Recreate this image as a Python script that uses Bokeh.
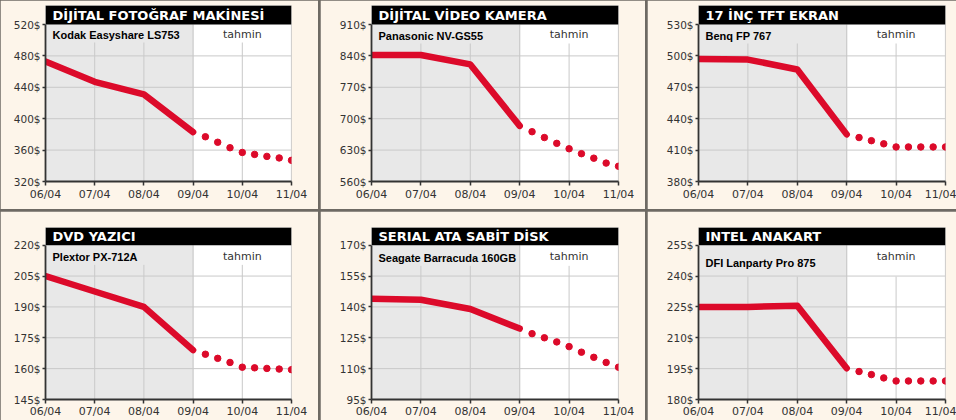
from bokeh.plotting import figure
from bokeh.layouts import row, column
from bokeh.models import Range1d, FixedTicker
from bokeh.core.properties import value
from bokeh.embed import file_html
from bokeh.resources import INLINE

# ---------------- data ----------------
months = [6, 7, 8, 9, 10, 11]
month_labels = ["06/04", "07/04", "08/04", "09/04", "10/04", "11/04"]
actual_x = [6, 7, 8, 9]
forecast_x = [9.25, 9.5, 9.75, 10, 10.25, 10.5, 10.75, 11]
forecast_label = "tahmin"

titles = ["DİJİTAL FOTOĞRAF MAKİNESİ", "DİJİTAL VİDEO KAMERA", "17 İNÇ TFT EKRAN",
          "DVD YAZICI", "SERIAL ATA SABİT DİSK", "INTEL ANAKART"]
products = ["Kodak Easyshare LS753", "Panasonic NV-GS55", "Benq FP 767",
            "Plextor PX-712A", "Seagate Barracuda  160GB", "DFI Lanparty Pro 875"]

foto_ticks = [320, 360, 400, 440, 480, 520]
foto_actual = [473, 447, 431, 383]
foto_forecast = [377, 370, 363, 357, 354.5, 352, 350, 347]

video_ticks = [560, 630, 700, 770, 840, 910]
video_actual = [842, 842, 821, 684]
video_forecast = [671, 658, 645, 633, 622, 612, 601, 594]

tft_ticks = [380, 410, 440, 470, 500, 530]
tft_actual = [497, 496.5, 487, 425]
tft_forecast = [422, 419, 416, 413, 413, 413, 413, 413]

dvd_ticks = [145, 160, 175, 190, 205, 220]
dvd_actual = [205, 197.5, 190, 169]
dvd_forecast = [167, 165, 163, 160.7, 160.4, 160.1, 159.8, 159.5]

sata_ticks = [95, 110, 125, 140, 155, 170]
sata_actual = [144, 143.5, 139, 129.5]
sata_forecast = [127, 125, 123, 120.7, 118, 115.5, 113, 110.7]

mb_ticks = [180, 195, 210, 225, 240, 255]
mb_actual = [225, 225, 225.6, 195.2]
mb_forecast = [193.6, 192.1, 190.5, 189, 189, 189, 189, 189]

tick_sets = [foto_ticks, video_ticks, tft_ticks, dvd_ticks, sata_ticks, mb_ticks]
actual_sets = [foto_actual, video_actual, tft_actual, dvd_actual, sata_actual, mb_actual]
forecast_sets = [foto_forecast, video_forecast, tft_forecast, dvd_forecast, sata_forecast, mb_forecast]

# ---------------- style / layout ----------------
CREAM = "#fdf5ea"
RED = "#dc0a2a"
SHADE = "#e8e8e8"
GRID = "#c9c9c9"
AXIS = "#333333"

col_w = [318, 325, 309]
col_left = [45, 51, 51]
col_frame = [246, 247, 247]
row_h = 209
row_top = [5, 16]
row_bar = [19, 18]
row_plot = [157, 157]
row_bottom = [28, 18]
row_standoff = [2, 1]
sub_px = [10, 11, 11, 12, 13, 18]
tahmin_px = [10, 10, 10, 12, 12, 12]
gap_px = [18, 19, 19, 20, 21, 32]


def make_panel(i):
    c, r = i % 3, i // 3
    ticks = tick_sets[i]
    ymin, ymax = ticks[0], ticks[-1]
    span = ymax - ymin
    per_px = span / row_plot[r]
    ytop = ymax + row_bar[r] * per_px

    p = figure(width=col_w[c], height=row_h, output_backend="svg", toolbar_location=None,
               x_range=Range1d(months[0], months[-1]), y_range=Range1d(ymin, ytop),
               min_border_left=col_left[c],
               min_border_right=col_w[c] - col_left[c] - col_frame[c],
               min_border_top=row_top[r], min_border_bottom=row_bottom[r])
    p.background_fill_color = "white"
    p.border_fill_color = CREAM
    p.outline_line_color = None
    p.xgrid.visible = False
    p.ygrid.visible = False

    # actual-period shading
    p.quad(left=[months[0]], right=[actual_x[-1]], bottom=[ymin], top=[ymax],
           fill_color=SHADE, line_color=None)
    # horizontal grid lines
    hticks = ticks[1:-1]
    p.segment(x0=[months[0]] * len(hticks), x1=[months[-1]] * len(hticks),
              y0=hticks, y1=hticks, line_color=GRID, line_width=1)
    # vertical grid lines (short ones stop below the label row)
    short = [m for m in months[1:-1] if m != actual_x[-1]]
    ystop = ymax - gap_px[i] * per_px
    p.segment(x0=short, x1=short, y0=[ymin] * len(short), y1=[ystop] * len(short),
              line_color=GRID, line_width=1)
    full = [actual_x[-1], months[-1]]
    p.segment(x0=full, x1=full, y0=[ymin] * 2, y1=[ymax] * 2, line_color=GRID, line_width=1.2)

    # title bar
    p.quad(left=[months[0]], right=[months[-1]], bottom=[ymax], top=[ytop],
           fill_color="black", line_color=None)
    p.text(x=[months[0]], y=[ymax + row_bar[r] * per_px / 2], text=[titles[i]],
           x_offset=7, text_baseline="middle", text_align="left",
           text_color="white", text_font=value("DejaVu Sans"), text_font_style="bold",
           text_font_size="13px")
    # product name and forecast label
    p.text(x=[months[0]], y=[ymax - sub_px[i] * per_px], text=[products[i]],
           x_offset=7, text_baseline="middle", text_align="left",
           text_color="black", text_font=value("Liberation Sans"),
           text_font_style="bold", text_font_size="11px")
    p.text(x=[months[4]], y=[ymax - tahmin_px[i] * per_px], text=[forecast_label],
           text_baseline="middle", text_align="center",
           text_color="#333333", text_font=value("DejaVu Sans"), text_font_size="11px")

    # data
    p.line(actual_x, actual_sets[i], line_color=RED, line_width=6.5,
           line_cap="round", line_join="round")
    p.scatter(forecast_x, forecast_sets[i], size=6.5, fill_color=RED, line_color=RED)

    # axes
    p.xaxis.ticker = FixedTicker(ticks=months)
    p.xaxis.major_label_overrides = {m: lab for m, lab in zip(months, month_labels)}
    p.yaxis.ticker = FixedTicker(ticks=ticks)
    p.yaxis.major_label_overrides = {t: f"{t}$" for t in ticks}
    p.yaxis.bounds = (ymin, ymax)
    for ax in (p.xaxis, p.yaxis):
        ax.axis_line_color = AXIS
        ax.axis_line_width = 1.8
        ax.major_tick_line_color = AXIS
        ax.major_tick_line_width = 1.5
        ax.major_tick_in = 0
        ax.minor_tick_line_color = None
        ax.major_label_text_color = "#333333"
        ax.major_label_text_font = "DejaVu Sans"
    p.xaxis.major_tick_out = 4
    p.yaxis.major_tick_out = 3
    p.xaxis.major_label_standoff = row_standoff[r]
    p.yaxis.major_label_standoff = 2
    p.xaxis.major_label_text_font_size = "11px"
    p.yaxis.major_label_text_font_size = "10.5px"
    return p


figs = [make_panel(i) for i in range(6)]
top = row(*figs[:3], spacing=2)
bottom = row(*figs[3:], spacing=2)
layout = column(top, bottom, spacing=2, styles={"background-color": "#6e6a64"})

open("out.html", "w").write(file_html(layout, INLINE))
